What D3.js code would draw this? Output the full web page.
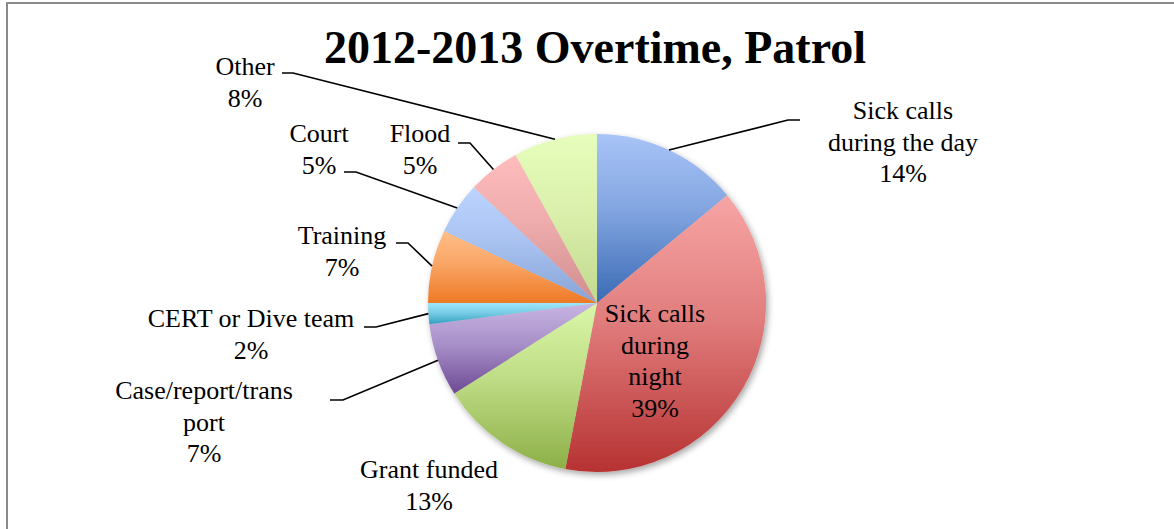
<!DOCTYPE html>
<html>
<head>
<meta charset="utf-8">
<script src="https://cdn.jsdelivr.net/npm/d3@7"></script>
<style>
  html, body { margin: 0; padding: 0; background: #fff; }
  svg { display: block; }
  text { font-family: "Liberation Serif", "Times New Roman", serif; fill: #000; }
</style>
</head>
<body>
<svg id="chart" width="1174" height="529"></svg>
<script>
// Overtime categories, clockwise from 12 o'clock
const categories = [
  "Sick calls during the day",
  "Sick calls during night",
  "Grant funded",
  "Case/report/transport",
  "CERT or Dive team",
  "Training",
  "Court",
  "Flood",
  "Other"
];
// Share of overtime, percent
const values = [14, 39, 13, 7, 2, 7, 5, 5, 8];
// Label lines as they wrap in the chart
const labelLines = [
  ["Sick calls", "during the day"],
  ["Sick calls", "during", "night"],
  ["Grant funded"],
  ["Case/report/trans", "port"],
  ["CERT or Dive team"],
  ["Training"],
  ["Court"],
  ["Flood"],
  ["Other"]
];
const title = "2012-2013 Overtime, Patrol";

// Gradient stops per slice (light top -> dark bottom)
const gradTop = ["#a8c4f8", "#f7a5a5", "#daf6a8", "#c8b5e3", "#9fe5fb", "#ffbe89", "#bdd4ff", "#ffbcbc", "#e7fdbb"];
const gradBot = ["#3a6ab4", "#b73232", "#8daf47", "#6d4a95", "#33a0c0", "#ee7924", "#86a4d6", "#d18d8d", "#c2d98f"];

// Label placement: text centre x, first baseline y, and leader start / elbow
const layout = [
  { x: 903, y: 119, lead: [[800, 120], [788, 120]] },
  { x: 655, y: 322, lead: null },
  { x: 429, y: 478, lead: null },
  { x: 204, y: 399, lead: [[330, 400], [343, 400]] },
  { x: 251, y: 327, lead: [[364, 327], [376, 327]] },
  { x: 342, y: 244, lead: [[396, 243], [408, 243]] },
  { x: 319, y: 142, lead: [[344, 172], [356, 172]] },
  { x: 420, y: 142, lead: [[458, 143], [470, 143]] },
  { x: 245, y: 75,  lead: [[282, 73],  [293, 73]] }
];

const svg = d3.select("#chart");
const cx = 597, cy = 303, R = 169;
const lineH = 31.5;

// outer frame
svg.append("rect")
  .attr("x", 7).attr("y", 3).attr("width", 1300).attr("height", 700)
  .attr("fill", "none").attr("stroke", "#8a8a8a").attr("stroke-width", 2);

const defs = svg.append("defs");
const shadow = defs.append("filter").attr("id", "pieShadow")
  .attr("x", "-20%").attr("y", "-20%").attr("width", "140%").attr("height", "140%");
shadow.append("feDropShadow")
  .attr("dx", 2).attr("dy", 3).attr("stdDeviation", 3)
  .attr("flood-color", "#000").attr("flood-opacity", 0.35);

categories.forEach((c, i) => {
  const g = defs.append("linearGradient").attr("id", "grad" + i)
    .attr("x1", 0).attr("y1", 0).attr("x2", 0).attr("y2", 1);
  g.append("stop").attr("offset", "0%").attr("stop-color", gradTop[i]);
  g.append("stop").attr("offset", "45%").attr("stop-color", d3.interpolateRgb(gradTop[i], gradBot[i])(0.35));
  g.append("stop").attr("offset", "100%").attr("stop-color", gradBot[i]);
});

const data = categories.map((c, i) => ({ name: c, value: values[i], i }));
const pie = d3.pie().value(d => d.value).sort(null);
const arcs = pie(data);
const arc = d3.arc().innerRadius(0).outerRadius(R);

const pieG = svg.append("g").attr("transform", `translate(${cx},${cy})`)
  .attr("filter", "url(#pieShadow)");
pieG.selectAll("path").data(arcs).join("path")
  .attr("d", arc)
  .attr("fill", d => `url(#grad${d.data.i})`);

// leader lines from label elbow to the slice edge at its mid-angle
arcs.forEach(a => {
  const L = layout[a.data.i];
  if (!L.lead) return;
  const mid = (a.startAngle + a.endAngle) / 2;
  const ex = cx + R * Math.sin(mid);
  const ey = cy - R * Math.cos(mid);
  const pts = [L.lead[0], L.lead[1], [ex, ey]];
  svg.append("path")
    .attr("d", d3.line()(pts))
    .attr("fill", "none").attr("stroke", "#000").attr("stroke-width", 1.6);
});

// data labels
arcs.forEach(a => {
  const i = a.data.i;
  const L = layout[i];
  const lines = labelLines[i].concat([a.data.value + "%"]);
  const t = svg.append("text")
    .attr("text-anchor", "middle")
    .attr("font-size", 26);
  lines.forEach((s, k) => {
    t.append("tspan").attr("x", L.x).attr("y", L.y + k * lineH).text(s);
  });
});

// title
svg.append("text")
  .attr("x", 595).attr("y", 63)
  .attr("text-anchor", "middle")
  .attr("font-size", 46).attr("font-weight", "bold")
  .text(title);
</script>
</body>
</html>
